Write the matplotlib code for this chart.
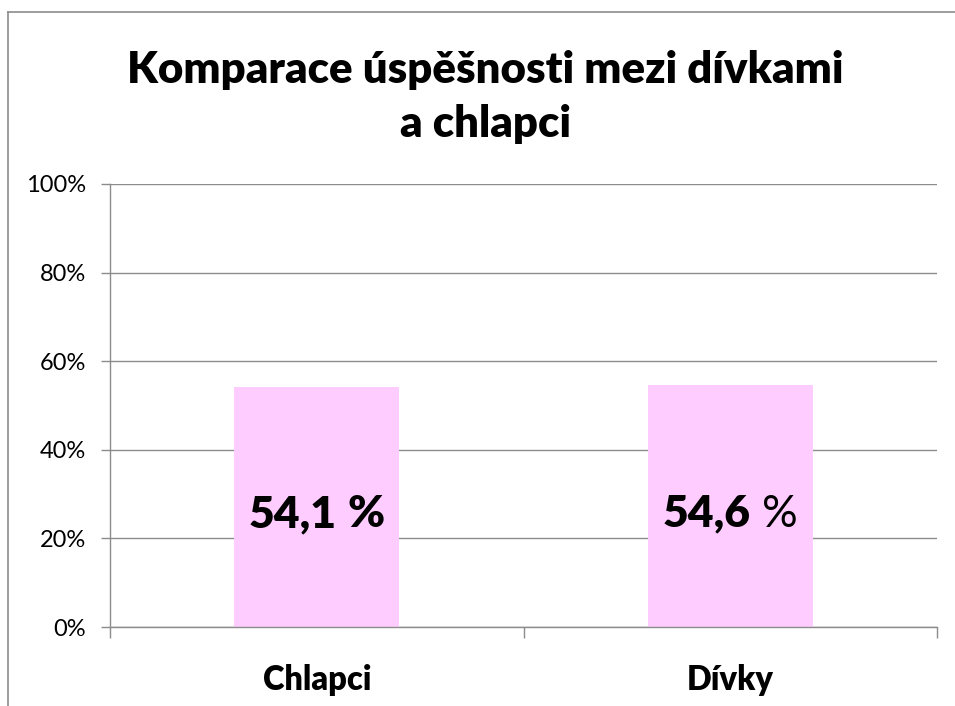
import matplotlib
matplotlib.use("Agg")
import matplotlib.pyplot as plt
from matplotlib.lines import Line2D
from matplotlib.offsetbox import TextArea, HPacker, AnnotationBbox

categories = ["Chlapci", "Dívky"]
values = [54.1, 54.6]
y_ticks = [0, 20, 40, 60, 80, 100]
y_tick_labels = ["0%", "20%", "40%", "60%", "80%", "100%"]
title = "Komparace úspěšnosti mezi dívkami\na chlapci"
pct_bold = [True, False]

FONT = "Lato"
GRID = "#8c8c8c"
BAR = "#FFCCFF"
BW = "heavy"

plt.rcParams["font.family"] = [FONT, "DejaVu Sans"]

W, H = 955, 706
fig = plt.figure(figsize=(W / 100, H / 100), dpi=100)

ax = fig.add_axes([110 / W, (H - 627) / H, 827 / W, 443 / H])
x = list(range(len(categories)))
ax.bar(x, values, width=0.4, color=BAR, zorder=2)
ax.set_xlim(-0.5, len(categories) - 0.5)
ax.set_ylim(0, 100)

ax.set_yticks(y_ticks)
ax.set_yticklabels(y_tick_labels, fontsize=17)
ax.tick_params(axis="y", length=6.5, color=GRID, width=1, pad=11)
ax.yaxis.grid(True, color=GRID, linewidth=1, zorder=1)
ax.set_axisbelow(True)

ax.set_xticks(x)
ax.set_xticklabels(categories, fontsize=23.5, fontweight=BW)
ax.tick_params(axis="x", which="major", length=0, pad=27)
ax.set_xticks([i - 0.5 for i in range(len(categories) + 1)], minor=True)
ax.tick_params(axis="x", which="minor", length=8, color=GRID, width=1)

for s in ["top", "right"]:
    ax.spines[s].set_visible(False)
for s in ["left", "bottom"]:
    ax.spines[s].set_color(GRID)
    ax.spines[s].set_linewidth(1)

for xi, v, pb in zip(x, values, pct_bold):
    num = f"{v:.1f}".replace(".", ",")
    t1 = TextArea(num, textprops=dict(fontsize=32, fontweight=BW, family=FONT))
    t2 = TextArea("%", textprops=dict(fontsize=32, fontweight=BW if pb else "normal", family=FONT))
    pack = HPacker(children=[t1, t2], sep=8, pad=0, align="baseline")
    ab = AnnotationBbox(pack, (xi, 25.5), xycoords="data", frameon=False,
                        box_alignment=(0.5, 0.5), zorder=3)
    ax.add_artist(ab)

fig.text(0.5 + 8 / W, 1 - 97 / H, title, ha="center", va="center",
         fontsize=31.5, fontweight=BW, linespacing=1.4)

fig.add_artist(Line2D([8 / W, 8 / W], [0, 1 - 12 / H], color=GRID, linewidth=1.2,
                      transform=fig.transFigure))
fig.add_artist(Line2D([8 / W, 1], [1 - 12 / H, 1 - 12 / H], color=GRID, linewidth=1.2,
                      transform=fig.transFigure))

fig.savefig("out.png", dpi=100, facecolor="white")
